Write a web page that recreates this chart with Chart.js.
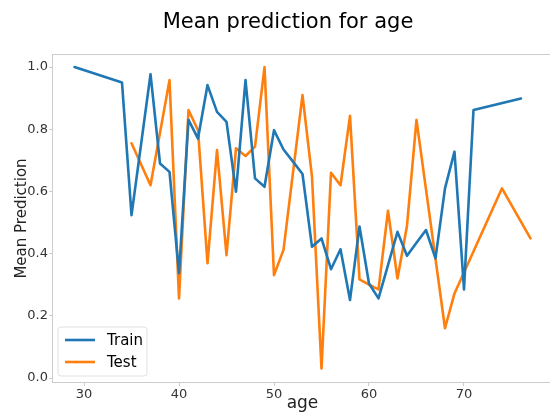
<!DOCTYPE html>
<html>
<head>
<meta charset="utf-8">
<script src="https://cdn.jsdelivr.net/npm/chart.js@4/dist/chart.umd.min.js"></script>
<style>
    html, body { margin: 0; padding: 0; background: #fff; overflow: hidden; }
    #wrap { width: 556px; height: 415px; }
</style>
</head>
<body>
<div id="wrap"><canvas id="chart" width="556" height="415"></canvas></div>
<script>
// data
const trainAges = [29, 34, 35, 37, 38, 39, 40, 41, 42, 43, 44, 45, 46, 47, 48, 49, 50, 51, 52, 53,
    54, 55, 56, 57, 58, 59, 60, 61, 62, 63, 64, 65, 66, 67, 68, 69, 70, 71, 76];
const trainValues = [1.0, 0.95, 0.524, 0.977, 0.69, 0.663, 0.337, 0.83, 0.77, 0.942, 0.856, 0.824, 0.599, 0.958, 0.642, 0.615, 0.797, 0.735, 0.696, 0.656,
    0.422, 0.449, 0.35, 0.414, 0.251, 0.487, 0.304, 0.256, 0.363, 0.47, 0.393, 0.435, 0.476, 0.385, 0.61, 0.728, 0.285, 0.862, 0.899];

const testAges = [35, 37, 39, 40, 41, 42, 43, 44, 45, 46, 47, 48, 49, 50, 51, 53, 54, 55, 56, 57,
    58, 59, 60, 61, 62, 63, 64, 65, 68, 69, 74, 77];
const testValues = [0.755, 0.62, 0.958, 0.256, 0.862, 0.797, 0.369, 0.733, 0.395, 0.739, 0.714, 0.744, 1.0, 0.331, 0.412, 0.91, 0.647, 0.031, 0.66, 0.62,
    0.843, 0.317, 0.3, 0.285, 0.538, 0.32, 0.49, 0.83, 0.16, 0.272, 0.61, 0.449];

const xTicks = [30, 40, 50, 60, 70];
const yTicks = [0.0, 0.2, 0.4, 0.6, 0.8, 1.0];

const chartTitle = "Mean prediction for age";
const xTitle = "age";
const yTitle = "Mean Prediction";

const blue = "#1f77b4";
const orange = "#ff7f0e";
const font = "DejaVu Sans";

function toPoints(xs, ys) {
    return xs.map((x, i) => ({ x: x, y: ys[i] }));
}

// title, frame and legend the way matplotlib draws them
const decorations = {
    id: "decorations",
    afterDraw(chart) {
        const ctx = chart.ctx;
        const area = chart.chartArea;
        ctx.save();

        // frame
        ctx.strokeStyle = "#cccccc";
        ctx.lineWidth = 1;
        ctx.strokeRect(area.left + 0.5, area.top + 0.5, area.right - area.left - 1, area.bottom - area.top - 1);

        // title
        ctx.fillStyle = "#000";
        ctx.font = "21px '" + font + "'";
        ctx.textAlign = "center";
        ctx.textBaseline = "middle";
        ctx.fillText(chartTitle, 288, 23);

        // legend in lower left
        const items = chart.data.datasets;
        const boxX = area.left + 6, boxY = area.bottom - 56;
        const boxW = 89, boxH = 49;
        ctx.fillStyle = "rgba(255,255,255,0.8)";
        ctx.strokeStyle = "#e0e0e0";
        ctx.beginPath();
        ctx.roundRect(boxX, boxY, boxW, boxH, 3);
        ctx.fill();
        ctx.stroke();
        ctx.font = "15px '" + font + "'";
        ctx.textAlign = "left";
        items.forEach((ds, i) => {
            const y = boxY + 13 + i * 22;
            ctx.strokeStyle = ds.borderColor;
            ctx.lineWidth = ds.borderWidth;
            ctx.beginPath();
            ctx.moveTo(boxX + 7, y);
            ctx.lineTo(boxX + 37, y);
            ctx.stroke();
            ctx.fillStyle = "#000";
            ctx.fillText(ds.label, boxX + 49, y + 1);
        });
        ctx.restore();
    }
};

new Chart(document.getElementById("chart"), {
    type: "line",
    data: {
        datasets: [{
            label: "Train",
            data: toPoints(trainAges, trainValues),
            borderColor: blue,
            backgroundColor: blue,
            borderWidth: 2.6,
            borderJoinStyle: "round",
            borderCapStyle: "round",
            pointRadius: 0,
            tension: 0
        }, {
            label: "Test",
            data: toPoints(testAges, testValues),
            borderColor: orange,
            backgroundColor: orange,
            borderWidth: 2.6,
            borderJoinStyle: "round",
            borderCapStyle: "round",
            pointRadius: 0,
            tension: 0
        }]
    },
    options: {
        responsive: false,
        devicePixelRatio: 1,
        animation: false,
        layout: { padding: { top: 54, right: 3, left: 0, bottom: 0 } },
        plugins: {
            legend: { display: false },
            tooltip: { enabled: false }
        },
        scales: {
            x: {
                type: "linear",
                min: 26.63,
                max: 79.37,
                afterBuildTicks: scale => { scale.ticks = xTicks.map(v => ({ value: v })); },
                afterFit: scale => { scale.height = 32; },
                grid: { drawOnChartArea: false, tickLength: 3, color: "#cccccc" },
                border: { display: false },
                ticks: { color: "#333", padding: 1, font: { family: font, size: 13 }, maxRotation: 0 },
                title: { display: true, text: xTitle, color: "#222", font: { family: font, size: 17 }, padding: { top: 0, bottom: 1 } }
            },
            y: {
                min: -0.016,
                max: 1.042,
                afterBuildTicks: scale => { scale.ticks = yTicks.map(v => ({ value: v })); },
                afterFit: scale => { scale.width = 52; },
                grid: { drawOnChartArea: false, tickLength: 3, color: "#cccccc" },
                border: { display: false },
                ticks: { color: "#333", padding: 1, font: { family: font, size: 13 }, callback: v => v.toFixed(1) },
                title: { display: true, text: yTitle, color: "#222", font: { family: font, size: 15 }, padding: { top: 13, bottom: 0 } }
            }
        }
    },
    plugins: [decorations]
});
</script>
</body>
</html>
